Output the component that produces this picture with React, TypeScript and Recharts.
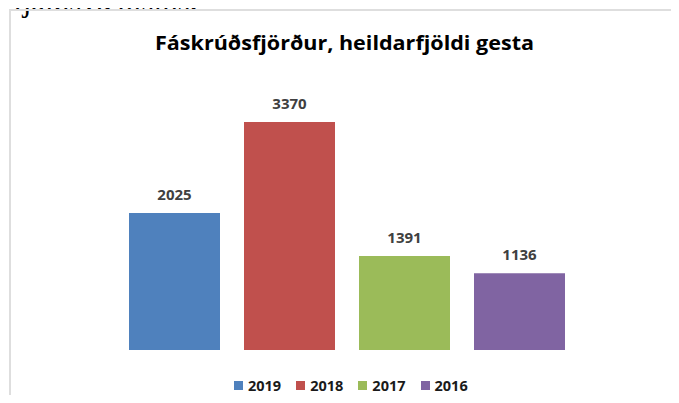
import { BarChart, Bar, XAxis, YAxis, Legend, LabelList } from 'recharts';

const years = ['2019', '2018', '2017', '2016'];
const guests = [2025, 3370, 1391, 1136];
const colors = ['#4f81bd', '#c0504d', '#9bbb59', '#8064a2'];

const chartData = [
  years.reduce((row: Record<string, any>, y, i) => {
    row[y] = guests[i];
    return row;
  }, { name: 'Fáskrúðsfjörður' }),
];

const labelFont = '"Open Sans", "Noto Sans", sans-serif';

// keep legend in series order (2019 first), recharts sorts by value otherwise
function LegendRow(props: any) {
  const items = [...(props.payload || [])].sort(
    (a: any, b: any) => years.indexOf(String(a.value)) - years.indexOf(String(b.value))
  );
  return (
    <div style={{ display: 'flex', alignItems: 'center', height: 20 }}>
      {items.map((it: any, i: number) => (
        <div key={it.value} style={{ display: 'flex', alignItems: 'center', marginRight: i < items.length - 1 ? 15 : 0 }}>
          <span style={{ width: 9, height: 9, background: it.color, display: 'inline-block', marginRight: 5 }} />
          <span style={{ fontFamily: labelFont, fontWeight: 700, fontSize: 14.5, color: '#1a1a1a' }}>{it.value}</span>
        </div>
      ))}
    </div>
  );
}

export default function App() {
  return (
    <div style={{ position: 'relative', margin: -8, width: 679, height: 403, overflow: 'hidden', background: '#fff' }}>
      <div
        style={{
          position: 'absolute', left: -4, top: -17, fontFamily: '"Liberation Serif", "Times New Roman", serif',
          fontSize: 31, lineHeight: '36px', whiteSpace: 'nowrap', color: '#000',
        }}
      >
        r tjaldsvæðisins.
      </div>
      <div style={{ position: 'absolute', left: 9, top: 9, width: 720, height: 440, border: '2px solid #dedede' }} />
      <svg style={{ position: 'absolute', left: 0, top: 0 }} width={679} height={70}>
        <text
          x={344.5}
          y={50}
          textAnchor="middle"
          textLength={379}
          lengthAdjust="spacingAndGlyphs"
          style={{ fontFamily: labelFont, fontWeight: 700, fontSize: 20, fill: '#000' }}
        >
          Fáskrúðsfjörður, heildarfjöldi gesta
        </text>
      </svg>
      <div style={{ position: 'absolute', left: 0, top: 0 }}>
        <BarChart width={679} height={403} data={chartData} barGap={24} margin={{ top: 79.4, right: 96, bottom: 33, left: 110 }}>
          <XAxis dataKey="name" hide />
          <YAxis hide domain={[0, 4000]} />
          <Legend verticalAlign="bottom" content={<LegendRow />} wrapperStyle={{ top: 375, left: 234, width: 300 }} />
          {years.map((y, i) => (
            <Bar key={y} dataKey={y} fill={colors[i]} barSize={91} isAnimationActive={false}>
              <LabelList
                dataKey={y}
                position="top"
                offset={13}
                fill="#404040"
                fontSize={15}
                fontWeight={700}
                fontFamily={labelFont}
              />
            </Bar>
          ))}
        </BarChart>
      </div>
    </div>
  );
}
